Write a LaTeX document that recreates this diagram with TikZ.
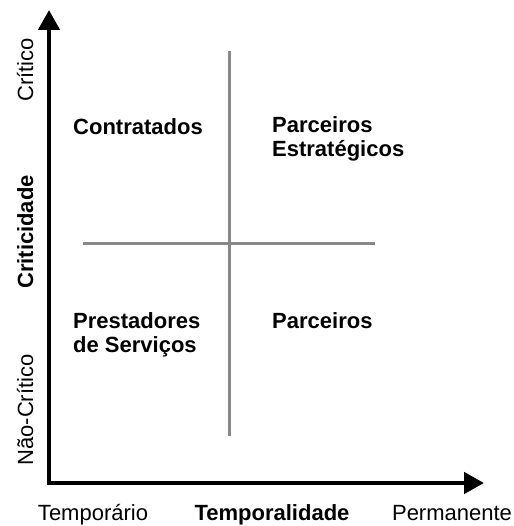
\documentclass[tikz,border=0pt]{standalone}
\usepackage{fontspec}
\setmainfont{Liberation Sans}
\usetikzlibrary{arrows.meta}
\usetikzlibrary{positioning}
\definecolor{divider-gray}{RGB}{136, 136, 136}

\begin{document}
\begin{tikzpicture}[x=1pt, y=-1pt,
  axis/.style={line width=4.5pt, -{Triangle[length=20pt, width=21pt]}},
  divider/.style={draw=divider-gray, line width=3pt},
  lbl/.style={font=\fontsize{22}{24}\selectfont, inner sep=0pt},
  quadlbl/.style={lbl, font=\fontsize{22}{24}\selectfont\bfseries, align=left, anchor=base west}]
\useasboundingbox (0,0) rectangle (513,526);
% axes
\coordinate (origin) at (49,483);
\coordinate (ytip) at (49,10);
\coordinate (xtip) at (484,483);
\draw[axis] ([xshift=-2.25pt]origin) -- (xtip);
\draw[axis] ([yshift=2.25pt]origin) -- (ytip);
% quadrant lines
\coordinate (vtop) at (229,51);
\coordinate (vbot) at (229,436);
\coordinate (hleft) at (83,243);
\coordinate (hright) at (375,243);
\draw[divider] (vtop) -- (vbot);
\draw[divider] (hleft) -- (hright);
% axis labels
\node[lbl, rotate=90, anchor=base] (critico) at (33,70) {Crítico};
\node[lbl, rotate=90, anchor=base, font=\fontsize{22}{24}\selectfont\bfseries] (criticidade) at (33,232) {Criticidade};
\node[lbl, rotate=90, anchor=base] (naocritico) at (33,410) {Não-Crítico};
\node[lbl, anchor=base] (temporario) at (93,520) {Temporário};
\node[lbl, anchor=base, font=\fontsize{22}{24}\selectfont\bfseries] (temporalidade) at (272,520) {Temporalidade};
\node[lbl, anchor=base] (permanente) at (452,520) {Permanente};
% quadrants (base = last line)
\node[quadlbl] (contratados) at (73,135) {Contratados};
\node[quadlbl] (estrategicos) at (272,157) {Parceiros\\Estratégicos};
\node[quadlbl] (prestadores) at (73,352) {Prestadores\\de Serviços};
\node[quadlbl] (parceiros) at (272,328) {Parceiros};
\end{tikzpicture}
\end{document}
